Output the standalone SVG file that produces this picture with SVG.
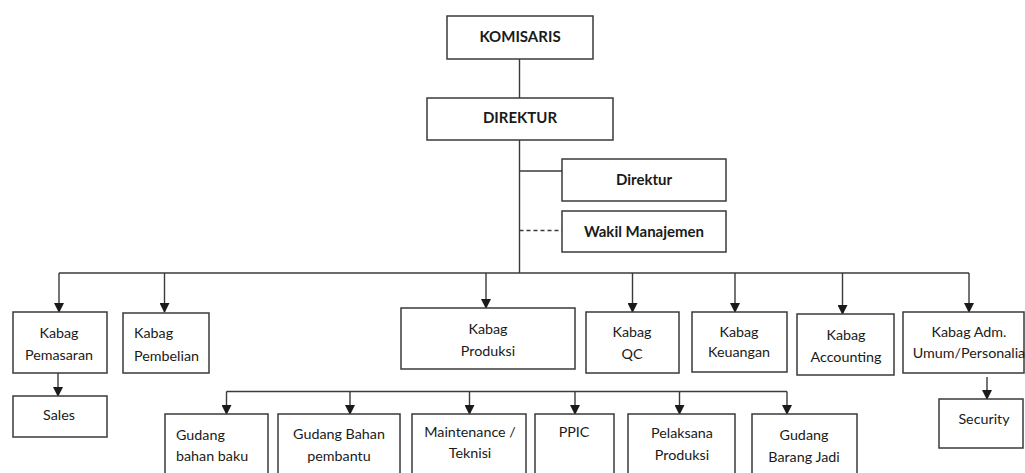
<svg xmlns="http://www.w3.org/2000/svg" width="1025" height="473" viewBox="0 0 1025 473">
<style>
.box{fill:#fff;stroke:#3a3a3a;stroke-width:1.5}
.t{font-family:Lato,"Liberation Sans",sans-serif;font-size:14.3px;fill:#1a1a1a;text-anchor:middle}
.b{font-weight:bold;font-size:15px}
.l{text-anchor:start}
.c{fill:none;stroke:#3a3a3a;stroke-width:1.4}
.d{stroke-dasharray:4 3}
</style>
<defs>
<marker id="ah" markerWidth="10" markerHeight="10" refX="9" refY="5" orient="auto" markerUnits="userSpaceOnUse">
<path d="M0,0 L10,5 L0,10 Z" fill="#1a1a1a"/>
</marker>
</defs>
<rect width="1025" height="473" fill="#fff"/>
<g id="connectors">
<line class="c" x1="519.5" y1="59" x2="519.5" y2="98"/>
<line class="c" x1="519.5" y1="140" x2="519.5" y2="273"/>
<line class="c" x1="519.5" y1="171" x2="562" y2="171"/>
<line class="c d" x1="519.5" y1="230.5" x2="562" y2="230.5"/>
<line class="c" x1="59" y1="273" x2="969" y2="273"/>
<line class="c" x1="59" y1="273" x2="59" y2="312" marker-end="url(#ah)"/>
<line class="c" x1="164.5" y1="273" x2="164.5" y2="312" marker-end="url(#ah)"/>
<line class="c" x1="486" y1="273" x2="486" y2="308" marker-end="url(#ah)"/>
<line class="c" x1="632.5" y1="273" x2="632.5" y2="312" marker-end="url(#ah)"/>
<line class="c" x1="735" y1="273" x2="735" y2="312" marker-end="url(#ah)"/>
<line class="c" x1="842.5" y1="273" x2="842.5" y2="314" marker-end="url(#ah)"/>
<line class="c" x1="969" y1="273" x2="969" y2="312" marker-end="url(#ah)"/>
<line class="c" x1="58" y1="373" x2="58" y2="396" marker-end="url(#ah)"/>
<line class="c" x1="987" y1="377" x2="987" y2="399" marker-end="url(#ah)"/>
<line class="c" x1="226.5" y1="391.5" x2="787" y2="391.5"/>
<line class="c" x1="226.5" y1="391.5" x2="226.5" y2="414" marker-end="url(#ah)"/>
<line class="c" x1="350" y1="391.5" x2="350" y2="414" marker-end="url(#ah)"/>
<line class="c" x1="469.5" y1="391.5" x2="469.5" y2="414" marker-end="url(#ah)"/>
<line class="c" x1="575" y1="391.5" x2="575" y2="414" marker-end="url(#ah)"/>
<line class="c" x1="679.5" y1="391.5" x2="679.5" y2="414" marker-end="url(#ah)"/>
<line class="c" x1="787" y1="391.5" x2="787" y2="414" marker-end="url(#ah)"/>
</g>
<g id="komisaris"><rect class="box" x="447" y="16" width="146" height="43"/><text class="t b" x="520" y="42">KOMISARIS</text></g>
<g id="direktur-utama"><rect class="box" x="427" y="98" width="186" height="42"/><text class="t b" x="520" y="123">DIREKTUR</text></g>
<g id="direktur"><rect class="box" x="562" y="159" width="164" height="42"/><text class="t b" x="644" y="185">Direktur</text></g>
<g id="wakil"><rect class="box" x="562" y="211" width="164" height="41"/><text class="t b" x="644" y="237">Wakil Manajemen</text></g>
<g id="pemasaran"><rect class="box" x="13" y="312" width="94" height="61"/><text class="t" x="59" y="338">Kabag</text><text class="t" x="59" y="360">Pemasaran</text></g>
<g id="pembelian"><rect class="box" x="123" y="313" width="86" height="60"/><text class="t l" x="134" y="338">Kabag</text><text class="t l" x="134" y="361">Pembelian</text></g>
<g id="sales"><rect class="box" x="13" y="396" width="94" height="41"/><text class="t" x="59" y="420">Sales</text></g>
<g id="produksi"><rect class="box" x="401" y="308" width="174" height="61"/><text class="t" x="488" y="334">Kabag</text><text class="t" x="488" y="356">Produksi</text></g>
<g id="qc"><rect class="box" x="586" y="312" width="93" height="61"/><text class="t" x="632" y="337">Kabag</text><text class="t" x="632" y="359">QC</text></g>
<g id="keuangan"><rect class="box" x="692" y="312" width="95" height="60"/><text class="t" x="739" y="337">Kabag</text><text class="t" x="739" y="357">Keuangan</text></g>
<g id="accounting"><rect class="box" x="797" y="314" width="97" height="61"/><text class="t" x="846" y="340">Kabag</text><text class="t" x="846" y="362">Accounting</text></g>
<g id="adm"><rect class="box" x="903" y="312" width="121" height="61"/><text class="t" x="969" y="337">Kabag Adm.</text><text class="t" x="969" y="358">Umum/Personalia</text></g>
<g id="security"><rect class="box" x="939" y="399" width="84" height="49"/><text class="t" x="984" y="424">Security</text></g>
<g id="gudang-baku"><rect class="box" x="165" y="414" width="103" height="70"/><text class="t l" x="176" y="440">Gudang</text><text class="t l" x="176" y="461">bahan baku</text></g>
<g id="gudang-pembantu"><rect class="box" x="278" y="414" width="122" height="70"/><text class="t" x="339" y="439">Gudang Bahan</text><text class="t" x="339" y="461">pembantu</text></g>
<g id="maintenance"><rect class="box" x="412" y="414" width="114" height="70"/><text class="t" x="470" y="437">Maintenance /</text><text class="t" x="470" y="458">Teknisi</text></g>
<g id="ppic"><rect class="box" x="535" y="414" width="79" height="70"/><text class="t" x="574" y="437">PPIC</text></g>
<g id="pelaksana"><rect class="box" x="628" y="414" width="107" height="70"/><text class="t" x="682" y="438">Pelaksana</text><text class="t" x="682" y="460">Produksi</text></g>
<g id="gudang-jadi"><rect class="box" x="752" y="414" width="105" height="70"/><text class="t" x="804" y="440">Gudang</text><text class="t" x="804" y="462">Barang Jadi</text></g>
</svg>
